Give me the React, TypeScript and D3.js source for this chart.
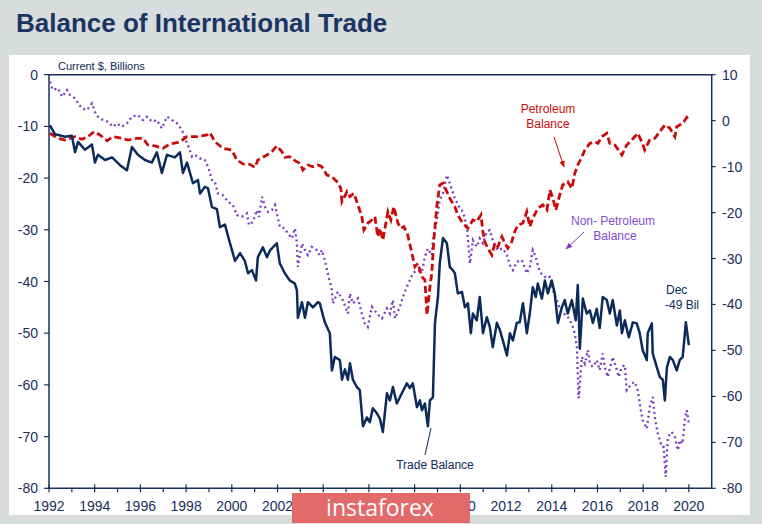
import React from 'react';
import * as d3 from 'd3';

type P = [number, number];

// Trade balance (left axis, $ billions)
const tradeBalance: P[] = [
  [1992.04,-9.8],[1992.26,-11.5],[1992.7,-12],[1993.0,-11.8],[1993.14,-15],[1993.27,-13],[1993.57,-14.5],[1993.88,-13.5],
  [1994.01,-17],[1994.14,-15.5],[1994.45,-16.5],[1994.76,-16],[1995.11,-17.5],[1995.41,-18.5],[1995.63,-14],[1995.89,-15.5],
  [1996.2,-16.5],[1996.5,-17],[1996.72,-15],[1996.94,-19],[1997.16,-15.5],[1997.51,-16],[1997.73,-15],[1997.86,-19],
  [1998.04,-17],[1998.3,-21],[1998.52,-20.4],[1998.61,-23],[1998.82,-21.7],[1998.96,-22],[1999.13,-25.6],[1999.35,-26],
  [1999.48,-29.5],[1999.7,-29],[1999.92,-32.6],[2000.14,-36],[2000.36,-34.5],[2000.57,-36],[2000.71,-38.4],[2000.88,-37.8],
  [2001.06,-39.8],[2001.14,-35.3],[2001.36,-33.4],[2001.54,-35.3],[2001.67,-34],[2001.97,-32.6],[2002.1,-36.5],[2002.32,-38.4],
  [2002.54,-39.8],[2002.76,-40.4],[2002.85,-41.7],[2002.89,-47],[2003.07,-44],[2003.2,-47],[2003.33,-44],[2003.55,-45],
  [2003.77,-44],[2003.85,-44.2],[2004.07,-47.9],[2004.29,-50],[2004.38,-57.2],[2004.51,-54.6],[2004.73,-55.2],[2004.82,-59],
  [2004.95,-57],[2005.08,-59],[2005.17,-55.8],[2005.3,-59],[2005.47,-60.4],[2005.6,-61],[2005.74,-68],[2005.91,-66.3],
  [2006.04,-67.2],[2006.17,-64.5],[2006.35,-65.5],[2006.48,-66.5],[2006.61,-69.1],[2006.79,-61.6],[2006.92,-63],[2007.05,-60.4],
  [2007.22,-63.6],[2007.44,-61.6],[2007.66,-59.7],[2007.79,-60.6],[2007.92,-59.7],[2008.1,-64.3],[2008.23,-63],[2008.32,-64.9],
  [2008.45,-63.6],[2008.58,-68],[2008.67,-63],[2008.8,-62.4],[2008.89,-48],[2009.02,-43],[2009.1,-36.5],[2009.24,-31.6],
  [2009.41,-32.6],[2009.54,-37.2],[2009.67,-37.8],[2009.76,-38.4],[2009.89,-42.3],[2010.07,-42],[2010.2,-45],[2010.33,-44.2],
  [2010.46,-50],[2010.55,-46.2],[2010.72,-47.5],[2010.85,-43],[2010.99,-50],[2011.16,-46.9],[2011.29,-48.8],[2011.42,-52.7],
  [2011.6,-48],[2011.73,-49.4],[2011.86,-51.4],[2012.04,-54.3],[2012.17,-50],[2012.3,-51.4],[2012.47,-48],[2012.6,-47.9],
  [2012.74,-44.2],[2012.91,-50],[2013.04,-46.2],[2013.17,-41.1],[2013.3,-43],[2013.39,-40.4],[2013.57,-43.3],[2013.7,-39.8],
  [2013.83,-42.3],[2014.0,-39.8],[2014.13,-42.3],[2014.27,-48],[2014.44,-45],[2014.57,-43.6],[2014.7,-46.2],[2014.88,-43.6],
  [2015.05,-47.5],[2015.14,-40.7],[2015.23,-53],[2015.36,-43.3],[2015.53,-46.2],[2015.67,-45.6],[2015.8,-48],[2015.97,-45.3],
  [2016.1,-49],[2016.23,-43],[2016.41,-43.6],[2016.54,-46.2],[2016.67,-43.6],[2016.85,-48.5],[2016.98,-45.6],[2017.07,-50],
  [2017.2,-47.5],[2017.37,-50.8],[2017.55,-47.9],[2017.72,-48.1],[2017.85,-50],[2017.98,-53.3],[2018.16,-55.2],[2018.2,-50],
  [2018.38,-48.1],[2018.42,-53.9],[2018.6,-56.6],[2018.73,-58.5],[2018.86,-59],[2018.95,-63],[2019.04,-56.6],[2019.17,-54.6],
  [2019.3,-55.2],[2019.47,-57.2],[2019.6,-55.2],[2019.73,-54.6],[2019.87,-47.9],[2020.0,-52.3],
];

// Petroleum balance (right axis)
const petroleumBalance: P[] = [
  [1992.04,-2.75],[1992.39,-3.84],[1992.7,-4.21],[1993.14,-3.49],[1993.44,-4.06],[1993.71,-3.49],[1993.97,-2.4],[1994.23,-3.12],
  [1994.54,-4.36],[1994.8,-3.49],[1995.19,-3.84],[1995.46,-4.21],[1995.85,-3.84],[1996.11,-3.84],[1996.33,-5.3],[1996.64,-5.51],
  [1996.99,-6.01],[1997.29,-5.08],[1997.6,-4.8],[1997.73,-4.58],[1998.04,-3.49],[1998.47,-3.49],[1998.91,-3.12],[1999.04,-2.62],
  [1999.26,-4.58],[1999.61,-6.01],[2000.0,-6.38],[2000.22,-8.56],[2000.49,-9.43],[2000.79,-9.5],[2001.01,-10.15],[2001.14,-8.56],
  [2001.54,-7.47],[2001.75,-6.75],[2001.97,-5.51],[2002.19,-6.75],[2002.32,-7.97],[2002.54,-7.84],[2002.76,-8.71],[2002.98,-9.28],
  [2003.11,-10.74],[2003.33,-9.65],[2003.55,-10.02],[2003.77,-9.65],[2003.94,-10.02],[2004.16,-11.82],[2004.38,-12.19],[2004.6,-13.28],
  [2004.77,-14.72],[2004.82,-17.63],[2005.04,-15.46],[2005.17,-16.54],[2005.34,-15.8],[2005.52,-18.35],[2005.69,-20.9],[2005.78,-23.79],
  [2005.95,-22.33],[2006.13,-21.61],[2006.26,-20.9],[2006.39,-25.25],[2006.48,-23.42],[2006.61,-25.97],[2006.74,-22.33],[2006.83,-19.81],
  [2006.96,-21.61],[2007.09,-18.72],[2007.27,-22.33],[2007.4,-23.42],[2007.53,-23.07],[2007.7,-24.88],[2007.88,-28.86],[2008.01,-31.78],
  [2008.14,-31.04],[2008.32,-33.95],[2008.45,-34.67],[2008.54,-42.28],[2008.67,-36.13],[2008.75,-33.21],[2008.84,-25.97],[2008.97,-18.72],
  [2009.1,-14.0],[2009.24,-13.63],[2009.41,-15.46],[2009.54,-16.89],[2009.76,-18.72],[2009.89,-20.53],[2010.11,-22.33],[2010.33,-23.42],
  [2010.55,-21.61],[2010.72,-21.98],[2010.9,-20.53],[2010.99,-24.16],[2011.07,-26.34],[2011.2,-27.77],[2011.38,-29.23],[2011.51,-26.68],
  [2011.64,-27.42],[2011.82,-25.25],[2011.95,-26.68],[2012.08,-27.77],[2012.25,-26.34],[2012.38,-24.16],[2012.52,-22.7],[2012.73,-22.33],
  [2012.91,-19.81],[2013.04,-23.07],[2013.17,-21.24],[2013.39,-19.07],[2013.61,-18.35],[2013.79,-19.44],[2013.92,-15.09],[2014.05,-16.89],
  [2014.18,-19.44],[2014.35,-16.17],[2014.48,-14.0],[2014.7,-13.28],[2014.88,-14.72],[2015.01,-11.45],[2015.14,-9.65],[2015.32,-7.84],
  [2015.45,-6.38],[2015.67,-4.93],[2015.88,-4.58],[2016.02,-4.93],[2016.19,-3.49],[2016.41,-2.75],[2016.54,-4.93],[2016.76,-5.3],
  [2017.07,-7.47],[2017.28,-5.3],[2017.5,-4.21],[2017.63,-3.49],[2017.76,-2.75],[2017.94,-4.58],[2018.07,-6.38],[2018.29,-4.21],
  [2018.51,-3.84],[2018.73,-2.4],[2018.95,-0.94],[2019.17,-1.66],[2019.39,-3.49],[2019.47,-1.31],[2019.6,-0.94],[2019.78,-0.23],
  [2019.91,0.73],[2020.0,0.14],
];

// Non-petroleum balance (left axis)
const nonPetroleumBalance: P[] = [
  [1992.04,-1.36],[1992.17,-2.96],[1992.39,-2.63],[1992.57,-4.26],[1992.79,-2.96],[1992.92,-3.93],[1993.14,-4.57],[1993.27,-5.54],
  [1993.44,-6.5],[1993.66,-6.83],[1993.88,-5.54],[1994.01,-7.16],[1994.14,-8.13],[1994.36,-8.77],[1994.58,-9.1],[1994.8,-10.07],
  [1994.97,-9.41],[1995.19,-10.07],[1995.41,-9.41],[1995.63,-8.13],[1995.89,-7.8],[1996.11,-8.77],[1996.29,-8.13],[1996.51,-9.1],
  [1996.72,-8.77],[1996.94,-10.38],[1997.16,-8.13],[1997.38,-8.77],[1997.6,-9.41],[1997.82,-10.7],[1997.95,-12.31],[1998.08,-13.61],
  [1998.26,-15.87],[1998.39,-15.54],[1998.61,-16.18],[1998.82,-16.51],[1998.96,-17.81],[1999.13,-20.38],[1999.26,-20.71],[1999.39,-22.96],
  [1999.61,-23.29],[1999.83,-24.58],[2000.05,-25.22],[2000.22,-27.16],[2000.44,-27.49],[2000.66,-26.83],[2000.75,-29.09],[2000.92,-28.46],
  [2001.1,-26.19],[2001.19,-27.49],[2001.32,-23.62],[2001.45,-25.55],[2001.58,-26.52],[2001.75,-26.19],[2001.89,-25.22],[2001.97,-26.83],
  [2002.1,-29.42],[2002.32,-29.73],[2002.45,-30.7],[2002.63,-31.67],[2002.76,-29.73],[2002.85,-32.64],[2002.89,-37.17],[2003.07,-32.64],
  [2003.2,-33.93],[2003.33,-34.9],[2003.5,-33.3],[2003.72,-33.93],[2003.85,-34.9],[2003.94,-33.93],[2004.07,-35.87],[2004.2,-38.44],
  [2004.38,-41.68],[2004.42,-44.25],[2004.64,-42.0],[2004.86,-43.61],[2005.08,-46.19],[2005.17,-42.31],[2005.3,-44.25],[2005.52,-43.28],
  [2005.69,-46.19],[2005.82,-48.12],[2005.95,-48.78],[2006.13,-44.91],[2006.35,-46.19],[2006.57,-47.15],[2006.79,-45.22],[2006.92,-46.19],
  [2007.05,-43.61],[2007.14,-47.15],[2007.35,-44.91],[2007.49,-42.97],[2007.66,-41.04],[2007.79,-39.74],[2007.92,-38.44],[2008.1,-37.8],
  [2008.32,-38.13],[2008.45,-35.23],[2008.58,-33.6],[2008.75,-34.9],[2008.8,-32.0],[2008.97,-28.13],[2009.1,-24.25],[2009.24,-22.96],
  [2009.41,-19.42],[2009.54,-21.02],[2009.76,-23.93],[2009.98,-25.86],[2010.11,-26.52],[2010.29,-29.42],[2010.42,-36.51],[2010.55,-32.0],
  [2010.72,-33.29],[2010.85,-31.67],[2010.99,-32.64],[2011.16,-30.39],[2011.29,-30.06],[2011.42,-32.0],[2011.64,-33.93],[2011.86,-33.6],
  [2012.04,-34.9],[2012.17,-36.84],[2012.3,-37.8],[2012.47,-36.2],[2012.69,-35.87],[2012.78,-36.84],[2012.91,-38.44],[2013.04,-37.17],
  [2013.17,-33.93],[2013.3,-35.23],[2013.39,-36.84],[2013.48,-38.13],[2013.61,-38.77],[2013.78,-39.41],[2013.92,-39.1],[2014.05,-41.68],
  [2014.22,-43.61],[2014.35,-45.22],[2014.48,-46.19],[2014.66,-46.52],[2014.79,-47.48],[2014.92,-48.78],[2015.01,-50.06],[2015.1,-52.65],
  [2015.18,-62.58],[2015.32,-54.59],[2015.45,-55.87],[2015.58,-53.29],[2015.67,-55.87],[2015.8,-56.52],[2015.97,-55.23],[2016.1,-57.16],
  [2016.23,-53.93],[2016.32,-56.52],[2016.45,-58.46],[2016.67,-54.59],[2016.85,-57.16],[2016.93,-58.46],[2017.07,-56.52],[2017.2,-56.19],
  [2017.28,-61.03],[2017.5,-59.74],[2017.63,-59.43],[2017.76,-61.03],[2017.9,-64.91],[2017.98,-66.84],[2018.16,-68.45],[2018.29,-64.27],
  [2018.42,-62.33],[2018.51,-66.2],[2018.64,-69.42],[2018.82,-72.01],[2018.9,-72.01],[2018.99,-77.82],[2019.08,-70.07],[2019.25,-69.11],
  [2019.39,-70.07],[2019.52,-72.65],[2019.6,-70.71],[2019.73,-71.35],[2019.82,-66.84],[2019.91,-64.91],[2020.0,-67.48],
];

const leftTicks = [0, -10, -20, -30, -40, -50, -60, -70, -80];
const rightTicks = [10, 0, -10, -20, -30, -40, -50, -60, -70, -80];
const yearLabels = [1992, 1994, 1996, 1998, 2000, 2002, 2004, 2006, 2008, 2010, 2012, 2014, 2016, 2018, 2020];
const minorYears = [1993, 1995, 1997, 1999, 2001, 2003, 2005, 2007, 2009, 2011, 2013, 2015, 2017, 2019];

const FONT = '"Liberation Sans", Arial, Helvetica, sans-serif';
const NAVY = '#0c2b5b';
const AXIS = '#17305e';
const RED = '#cc0a0a';
const PURPLE = '#7a3cc0';

export default function App() {
  const x = d3.scaleLinear().domain([1992, 2021]).range([49, 711.7]);
  const yL = d3.scaleLinear().domain([-80, 0]).range([488.3, 74.7]);
  const yR = d3.scaleLinear().domain([-80, 10]).range([488.3, 74.7]);
  const lineL = d3.line<P>().x(d => x(d[0])).y(d => yL(d[1]));
  const lineR = d3.line<P>().x(d => x(d[0])).y(d => yR(d[1]));
  const x0 = x(1992), x1 = x(2021), yTop = yL(0), yBot = yL(-80);

  return (
    <svg width={762} height={524} style={{ position: 'absolute', left: 0, top: 0, display: 'block' }} fontFamily={FONT}>
      <defs>
        <marker id="arR" viewBox="0 0 10 10" refX="9" refY="5" markerWidth="7" markerHeight="7" orient="auto">
          <path d="M0,1 L10,5 L0,9 z" fill={RED} />
        </marker>
        <marker id="arP" viewBox="0 0 10 10" refX="9" refY="5" markerWidth="7" markerHeight="7" orient="auto">
          <path d="M0,1 L10,5 L0,9 z" fill={PURPLE} />
        </marker>
      </defs>
      <rect x={0} y={0} width={762} height={524} fill="#d9dcdd" />
      <rect x={9} y={55} width={741} height={460} fill="#ffffff" />
      <text x={16} y={32} fontSize={26} fontWeight="bold" fill="#1b3563">Balance of International Trade</text>
      <text x={58} y={70} fontSize={11} fill={NAVY}>Current $, Billions</text>

      {/* frame */}
      <line x1={x0} x2={x1} y1={yTop} y2={yTop} stroke={AXIS} strokeWidth={1.5} />
      <line x1={x0} x2={x1} y1={yBot} y2={yBot} stroke={AXIS} strokeWidth={1.5} />
      <line x1={x0} x2={x0} y1={yTop} y2={yBot} stroke={AXIS} strokeWidth={1.5} />
      <line x1={x1} x2={x1} y1={yTop} y2={yBot} stroke={AXIS} strokeWidth={1.5} />

      {leftTicks.map(t => (
        <g key={'l' + t}>
          <line x1={x0 - 5} x2={x0} y1={yL(t)} y2={yL(t)} stroke={AXIS} strokeWidth={1.2} />
          <text x={38} y={yL(t) + 5} fontSize={14} textAnchor="end" fill={AXIS}>{t}</text>
        </g>
      ))}
      {rightTicks.map(t => (
        <g key={'r' + t}>
          <line x1={x1} x2={x1 + 4} y1={yR(t)} y2={yR(t)} stroke={AXIS} strokeWidth={1.2} />
          <text x={722} y={yR(t) + 5} fontSize={14} fill={AXIS}>{t}</text>
        </g>
      ))}
      {yearLabels.map(yr => (
        <g key={'y' + yr}>
          <line x1={x(yr)} x2={x(yr)} y1={yBot - 4} y2={yBot + 4} stroke={AXIS} strokeWidth={1.2} />
          <text x={x(yr)} y={511} fontSize={14} textAnchor="middle" fill={AXIS}>{yr}</text>
        </g>
      ))}
      {minorYears.map(yr => (
        <line key={'m' + yr} x1={x(yr)} x2={x(yr)} y1={yBot} y2={yBot + 4} stroke={AXIS} strokeWidth={1.2} />
      ))}

      {/* series */}
      <path d={lineL(nonPetroleumBalance) || ''} fill="none" stroke={PURPLE} strokeWidth={2.3} strokeDasharray="2,3.2" />
      <path d={lineR(petroleumBalance) || ''} fill="none" stroke={RED} strokeWidth={2.8} strokeDasharray="7,3.5" />
      <path d={lineL(tradeBalance) || ''} fill="none" stroke={NAVY} strokeWidth={2.5} strokeLinejoin="round" />

      {/* annotations */}
      <text x={548} y={113} fontSize={12} textAnchor="middle" fill={RED}>Petroleum</text>
      <text x={548} y={128} fontSize={12} textAnchor="middle" fill={RED}>Balance</text>
      <line x1={554} y1={137} x2={564} y2={167} stroke={RED} strokeWidth={1} markerEnd="url(#arR)" />

      <text x={613} y={225} fontSize={12} textAnchor="middle" fill="#8050d0">Non- Petroleum</text>
      <text x={615} y={240} fontSize={12} textAnchor="middle" fill="#8050d0">Balance</text>
      <line x1={584} y1={232} x2={566} y2={249} stroke={PURPLE} strokeWidth={1} markerEnd="url(#arP)" />

      <text x={666} y={294} fontSize={12} fill={NAVY}>Dec</text>
      <text x={665} y={309} fontSize={12} fill={NAVY}>-49 Bil</text>

      <line x1={425} y1={455} x2={431} y2={428} stroke={NAVY} strokeWidth={1} />
      <text x={435} y={469} fontSize={12} textAnchor="middle" fill={NAVY}>Trade Balance</text>

      {/* watermark overlay (covers some year labels, as in the reference) */}
      <rect x={292} y={493} width={178} height={30} fill="#e26a6b" />
      <text x={380} y={516} fontSize={23} textAnchor="middle" fill="#ffffff" fontFamily='"Open Sans", Roboto, sans-serif'>instaforex</text>
    </svg>
  );
}
